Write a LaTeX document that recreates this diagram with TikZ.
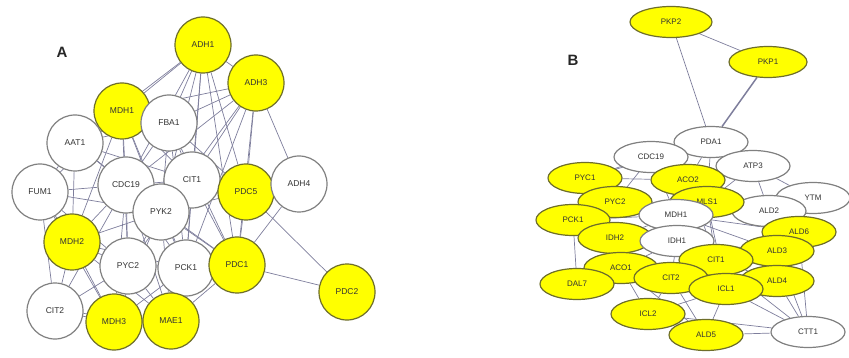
\documentclass[tikz,border=0pt]{standalone}
\usepackage{fontspec}
\setmainfont{Liberation Sans}
\usetikzlibrary{shapes.geometric}
\pgfdeclarelayer{background}
\pgfsetlayers{background,main}
\definecolor{edgecol}{HTML}{7E7E9C}
\definecolor{yfill}{HTML}{FFFF00}
\definecolor{yline}{HTML}{6E6E2A}
\definecolor{wline}{HTML}{808080}
\definecolor{txt}{HTML}{333333}
\tikzset{
  cnode/.style={circle, minimum size=56pt, inner sep=0pt, line width=1.2pt, font=\fontsize{8.5}{8.5}\selectfont, text=txt},
  ynode/.style={cnode, fill=yfill, draw=yline},
  wnode/.style={cnode, fill=white, draw=wline},
  enode/.style={ellipse, minimum width=74pt, minimum height=31pt, inner sep=0pt, line width=1.2pt, font=\fontsize{8}{8}\selectfont, text=txt},
  yell/.style={enode, fill=yfill, draw=yline},
  well/.style={enode, fill=white, draw=wline},
  edge/.style={draw=edgecol, line width=0.7pt},
  panel/.style={font=\bfseries\fontsize{15}{15}\selectfont, text=black!85}
}
\begin{document}
\begin{tikzpicture}[x=1pt,y=-1pt]
\useasboundingbox (0,0) rectangle (849,358);
% ---------- Panel A ----------
\node[panel] (labA) at (62,52) {A};
\node[ynode] (ADH1) at (203,45) {ADH1};
\node[ynode] (ADH3) at (256,83) {ADH3};
\node[ynode] (MDH1) at (122,111) {MDH1};
\node[wnode] (FBA1) at (169,123) {FBA1};
\node[wnode] (AAT1) at (75,143) {AAT1};
\node[wnode] (FUM1) at (40,192) {FUM1};
\node[wnode] (CDC19a) at (126,185) {CDC19};
\node[wnode] (CIT1a) at (192,180) {CIT1};
\node[wnode] (PYK2) at (161,212) {PYK2};
\node[ynode] (PDC5) at (246,192) {PDC5};
\node[wnode] (ADH4) at (299,184) {ADH4};
\node[ynode] (MDH2) at (72,242) {MDH2};
\node[wnode] (PYC2a) at (128,266) {PYC2};
\node[wnode] (PCK1a) at (186,268) {PCK1};
\node[ynode] (PDC1) at (237,265) {PDC1};
\node[ynode] (PDC2) at (347,292) {PDC2};
\node[wnode] (CIT2a) at (55,311) {CIT2};
\node[ynode] (MDH3) at (114,322) {MDH3};
\node[ynode] (MAE1) at (171,321) {MAE1};
\begin{pgfonlayer}{background}
\foreach \a/\b in {ADH1/MDH1,ADH1/FBA1,ADH1/CDC19a,ADH1/CIT1a,ADH1/PYK2,ADH1/PDC5,ADH1/PDC1,ADH1/ADH3,ADH1/AAT1,ADH1/PCK1a,
  ADH3/MDH1,ADH3/FBA1,ADH3/CDC19a,ADH3/CIT1a,ADH3/PDC5,ADH3/PDC1,ADH3/ADH4,ADH3/PYK2,ADH3/PCK1a,
  MDH1/FBA1,MDH1/AAT1,MDH1/CDC19a,MDH1/CIT1a,MDH1/PYK2,MDH1/FUM1,MDH1/MDH2,MDH1/PYC2a,MDH1/PCK1a,
  FBA1/CDC19a,FBA1/CIT1a,FBA1/PYK2,FBA1/AAT1,FBA1/PCK1a,FBA1/PDC5,FBA1/PDC1,
  AAT1/FUM1,AAT1/CDC19a,AAT1/PYK2,AAT1/MDH2,AAT1/CIT1a,
  FUM1/CDC19a,FUM1/MDH2,FUM1/PYK2,FUM1/PYC2a,FUM1/CIT2a,FUM1/MDH3,
  CDC19a/CIT1a,CDC19a/PYK2,CDC19a/MDH2,CDC19a/PYC2a,CDC19a/PCK1a,CDC19a/MAE1,CDC19a/MDH3,CDC19a/PDC1,CDC19a/CIT2a,
  CIT1a/PYK2,CIT1a/PDC5,CIT1a/PDC1,CIT1a/PCK1a,CIT1a/PYC2a,
  PYK2/PDC1,PYK2/PCK1a,PYK2/PYC2a,PYK2/MDH2,PYK2/MAE1,PYK2/MDH3,PYK2/PDC5,
  MDH2/PYC2a,MDH2/CIT2a,MDH2/MDH3,MDH2/MAE1,MDH2/PCK1a,
  PYC2a/PCK1a,PYC2a/MDH3,PYC2a/MAE1,PYC2a/CIT2a,PYC2a/PDC1,
  PCK1a/PDC1,PCK1a/MAE1,PCK1a/MDH3,
  PDC5/PDC1,PDC5/PDC2,PDC5/ADH4,PDC1/PDC2,PDC1/ADH4,PDC1/MAE1,
  CIT2a/MDH3,CIT2a/MAE1}
  \draw[edge] (\a) -- (\b);
\end{pgfonlayer}
% ---------- Panel B ----------
\node[panel] (labB) at (573,60) {B};
\node[yell, minimum width=82pt] (PKP2) at (671,22) {PKP2};
\node[yell, minimum width=78pt] (PKP1) at (768,62) {PKP1};
\node[well] (PDA1) at (711,142) {PDA1};
\node[well] (CDC19b) at (651,157) {CDC19};
\node[well] (ATP3) at (753,166) {ATP3};
\node[well] (YTM) at (813,198) {YTM};
\node[well] (ALD2) at (769,211) {ALD2};
\node[yell] (PYC1) at (585,178) {PYC1};
\node[yell] (ACO2) at (688,180) {ACO2};
\node[yell] (PYC2b) at (615,202) {PYC2};
\node[yell] (MLS1) at (707,202) {MLS1};
\node[well] (MDH1b) at (676,215) {MDH1};
\node[yell] (PCK1b) at (573,220) {PCK1};
\node[yell] (ALD6) at (799,232) {ALD6};
\node[yell] (IDH2) at (615,238) {IDH2};
\node[well] (IDH1) at (677,241) {IDH1};
\node[yell] (ALD3) at (777,251) {ALD3};
\node[yell] (CIT1b) at (716,260) {CIT1};
\node[yell] (ACO1) at (621,268) {ACO1};
\node[yell] (DAL7) at (577,284) {DAL7};
\node[yell] (CIT2b) at (671,278) {CIT2};
\node[yell] (ALD4) at (777,281) {ALD4};
\node[yell] (ICL1) at (726,289) {ICL1};
\node[yell] (ICL2) at (648,314) {ICL2};
\node[yell] (ALD5) at (706,335) {ALD5};
\node[well] (CTT1) at (808,332) {CTT1};
\begin{pgfonlayer}{background}
\draw[edge, line width=1.5pt] (PKP1) -- (PDA1);
\foreach \a/\b in {PKP2/PKP1,PKP2/PDA1,PDA1/CDC19b,PDA1/ACO2,PDA1/ATP3,PDA1/MLS1,PDA1/PYC1,
  ATP3/YTM,ATP3/ALD2,ALD2/YTM,ATP3/MLS1,
  CDC19b/PYC1,CDC19b/PYC2b,CDC19b/ACO2,CDC19b/MDH1b,
  PYC1/PYC2b,PYC1/ACO2,PYC2b/PCK1b,PYC2b/MDH1b,PCK1b/IDH2,PCK1b/DAL7,PCK1b/MDH1b,
  ACO2/MLS1,ACO2/MDH1b,ACO2/IDH1,ACO2/CIT1b,
  MLS1/MDH1b,MLS1/ALD2,MLS1/ALD6,MLS1/CIT1b,MLS1/ICL1,
  MDH1b/IDH1,MDH1b/IDH2,MDH1b/CIT1b,MDH1b/ALD6,MDH1b/ALD3,
  IDH2/IDH1,IDH2/ACO1,IDH1/ACO1,IDH1/CIT1b,IDH1/CIT2b,IDH1/ALD3,
  ALD6/ALD3,ALD3/ALD4,ALD6/ALD4,ALD2/ALD6,
  CIT1b/CIT2b,CIT1b/ICL1,CIT1b/ALD4,CIT1b/ALD3,
  ACO1/CIT2b,ACO1/DAL7,ACO1/ICL2,ACO1/ALD5,
  CIT2b/ICL1,CIT2b/ICL2,CIT2b/ALD5,
  ICL1/ALD5,ICL1/ALD4,ICL2/ALD5,ICL1/ICL2,
  CTT1/ALD4,CTT1/ALD3,CTT1/ALD6,CTT1/ICL1,CTT1/ALD5,CTT1/CIT1b,CTT1/ICL2}
  \draw[edge] (\a) -- (\b);
\end{pgfonlayer}
\end{tikzpicture}
\end{document}
